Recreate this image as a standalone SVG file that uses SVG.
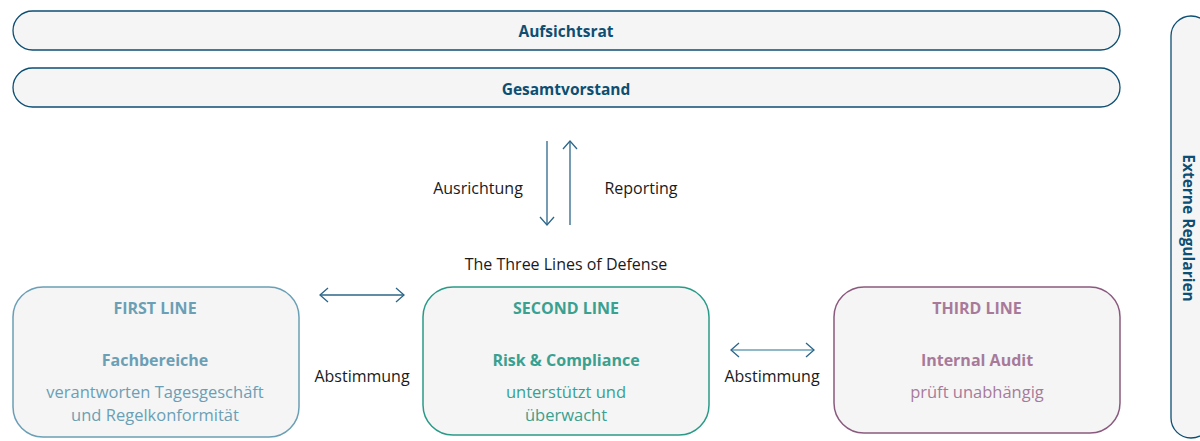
<svg xmlns="http://www.w3.org/2000/svg" width="1200" height="441" viewBox="0 0 1200 441">
<style>
text{font-family:"Open Sans","Noto Sans","Liberation Sans",sans-serif;text-anchor:middle}
.bar{fill:#f5f5f5;stroke:#0d4f73;stroke-width:1.3}
.bt{font-size:15.5px;font-weight:700;fill:#0d4f73}
.lbl{font-size:16px;fill:#1a1a1a}
.box{fill:#f5f5f5;stroke-width:1.5}
.h{font-size:16px;font-weight:700}
.d{font-size:16.5px}
.c1{fill:#6a9fb5}
.c2{fill:#3aa08f}
.c3{fill:#a87a9a}
.ar{fill:none;stroke:#2b6689;stroke-width:1.3}
</style>
<defs>
<marker id="ah" viewBox="0 0 10 16" refX="9" refY="8" markerWidth="10" markerHeight="16" markerUnits="userSpaceOnUse" orient="auto-start-reverse">
<path d="M1,1 L9,8 L1,15" fill="none" stroke="#2b6689" stroke-width="1.3"/>
</marker>
</defs>
<g id="aufsichtsrat">
<rect class="bar" x="13" y="11" width="1107" height="39" rx="19.5"/>
<text class="bt" x="566" y="37">Aufsichtsrat</text>
</g>
<g id="gesamtvorstand">
<rect class="bar" x="13" y="68" width="1107" height="39" rx="19.5"/>
<text class="bt" x="566" y="95">Gesamtvorstand</text>
</g>
<g id="externe-regularien">
<rect class="bar" x="1171" y="16" width="40" height="422" rx="20"/>
<text class="bt" transform="translate(1182.5,228) rotate(90)" x="0" y="0">Externe Regularien</text>
</g>
<g id="three-lines-title">
<text class="lbl" x="566" y="270">The Three Lines of Defense</text>
</g>
<g id="first-line">
<rect class="box" x="13" y="287" width="286" height="150" rx="30" stroke="#6a9fb5"/>
<text class="h c1" x="155" y="314">FIRST LINE</text>
<text class="h c1" x="155" y="366">Fachbereiche</text>
<text class="d c1" x="155" y="398">verantworten Tagesgeschäft</text>
<text class="d c1" x="155" y="421">und Regelkonformität</text>
</g>
<g id="second-line">
<rect class="box" x="423" y="287" width="286" height="148" rx="30" stroke="#2a9a88"/>
<text class="h c2" x="566" y="314">SECOND LINE</text>
<text class="h c2" x="566" y="366">Risk &amp; Compliance</text>
<text class="d c2" x="566" y="398">unterstützt und</text>
<text class="d c2" x="566" y="421">überwacht</text>
</g>
<g id="third-line">
<rect class="box" x="834" y="287" width="286" height="146" rx="30" stroke="#8a5a7e"/>
<text class="h c3" x="977" y="314">THIRD LINE</text>
<text class="h c3" x="977" y="366">Internal Audit</text>
<text class="d c3" x="977" y="398">prüft unabhängig</text>
</g>
<g id="connectors">
<line class="ar" x1="547" y1="141" x2="547" y2="225" marker-end="url(#ah)"/>
<line class="ar" x1="570" y1="225" x2="570" y2="141" marker-end="url(#ah)"/>
<text class="lbl" x="478" y="194">Ausrichtung</text>
<text class="lbl" x="641" y="194">Reporting</text>
<line class="ar" x1="320" y1="295" x2="404" y2="295" marker-start="url(#ah)" marker-end="url(#ah)"/>
<text class="lbl" x="362" y="382">Abstimmung</text>
<line class="ar" x1="731" y1="350" x2="814" y2="350" style="stroke:#6aa0b6" marker-start="url(#ah)" marker-end="url(#ah)"/>
<text class="lbl" x="772" y="382">Abstimmung</text>
</g>
</svg>
